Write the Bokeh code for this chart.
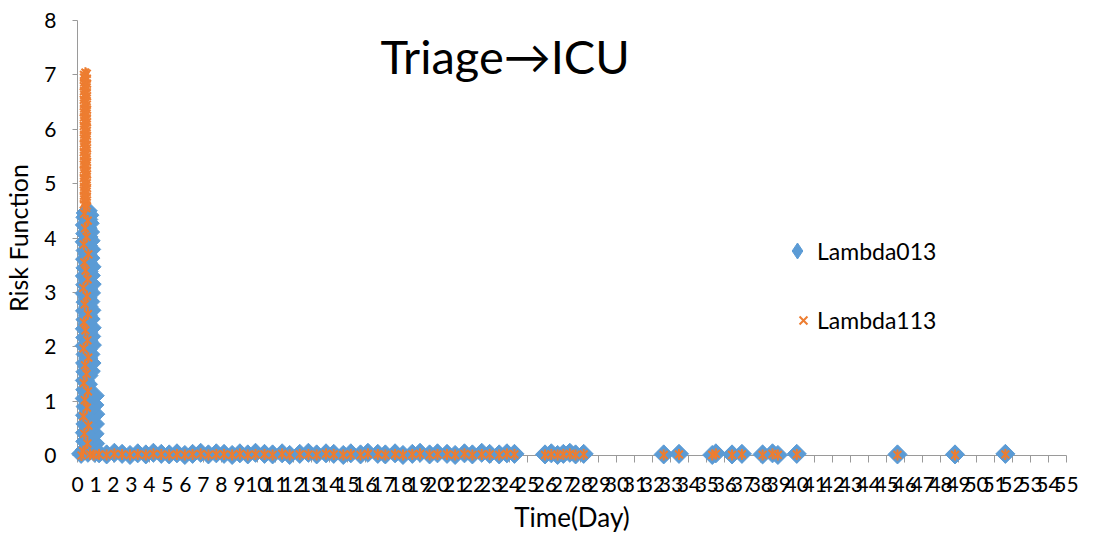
import math
from bokeh.plotting import figure
from bokeh.models import (Range1d, FixedTicker, Legend, LegendItem, Label,
                          ColumnDataSource, AllLabels, CDSView, IndexFilter)
from bokeh.embed import file_html
from bokeh.resources import INLINE

# ---------------- data ----------------
# Lambda013 : spike near day 0, then a near-zero tail
day013 = [
    # spike, left column
    0.40, 0.43, 0.41, 0.44, 0.42, 0.45, 0.40, 0.43, 0.41, 0.44, 0.42, 0.45, 0.40, 0.43, 0.41,
    0.44, 0.42, 0.45, 0.40, 0.43, 0.41, 0.44, 0.42, 0.45, 0.40, 0.43, 0.41, 0.44, 0.46,
    # spike, middle column
    0.58, 0.61, 0.56, 0.60, 0.57, 0.62, 0.59, 0.55, 0.58, 0.61, 0.56, 0.60, 0.57, 0.62, 0.59,
    0.55, 0.58, 0.61, 0.56, 0.60, 0.57, 0.62, 0.59, 0.55, 0.58, 0.61, 0.56, 0.60, 0.57,
    # spike, right column
    0.74, 0.78, 0.72, 0.80, 0.76, 0.79, 0.73, 0.77, 0.71, 0.75, 0.79, 0.74, 0.78, 0.72, 0.76,
    0.73, 0.70, 0.68, 0.66,
    # lower-right shoulder
    0.96, 0.98, 0.95, 0.97, 0.99, 0.94, 0.96,
    0.20,
    # tail
    1.20, 1.62, 2.05, 2.48, 2.92, 3.35, 3.80, 4.22, 4.66, 5.10, 5.53, 5.97, 6.40, 6.85,
    7.28, 7.72, 8.15, 8.60, 9.03, 9.47, 9.90, 10.40, 10.85, 11.38, 11.80, 12.36, 12.84,
    13.30, 13.82, 14.25, 14.78, 15.20, 15.74, 16.15, 16.70, 17.12, 17.66, 18.10, 18.62,
    19.05, 19.58, 20.02, 20.55, 21.00, 21.52, 21.96, 22.48, 22.92, 23.45, 23.88, 24.30,
    26.00, 26.35, 26.70, 27.02, 27.38, 27.70, 28.15,
    32.60, 33.45, 35.30, 35.50, 36.40, 36.95, 38.10, 38.65, 38.95, 40.00, 45.60, 48.80, 51.60,
]
lambda013 = [
    0.10, 0.26, 0.42, 0.58, 0.74, 0.90, 1.05, 1.21, 1.38, 1.54, 1.70, 1.86, 2.02, 2.17, 2.33,
    2.50, 2.66, 2.82, 2.98, 3.14, 3.30, 3.45, 3.61, 3.77, 3.93, 4.08, 4.24, 4.38, 4.46,
    0.05, 0.20, 0.36, 0.52, 0.68, 0.84, 1.00, 1.15, 1.31, 1.47, 1.63, 1.79, 1.95, 2.10, 2.26,
    2.42, 2.58, 2.74, 2.90, 3.06, 3.22, 3.38, 3.54, 3.70, 3.86, 4.02, 4.18, 4.34, 4.50,
    1.55, 1.70, 1.86, 2.03, 2.19, 2.35, 2.51, 2.67, 2.83, 2.99, 3.15, 3.31, 3.47, 3.63, 3.79,
    3.95, 4.11, 4.27, 4.42,
    0.05, 0.22, 0.40, 0.58, 0.76, 0.93, 1.10,
    0.03,
    0.04, 0.02, 0.05, 0.03, 0.01, 0.04, 0.02, 0.05, 0.03, 0.02, 0.04, 0.01, 0.03, 0.05,
    0.02, 0.04, 0.03, 0.01, 0.04, 0.02, 0.05, 0.03, 0.02, 0.04, 0.01, 0.03, 0.05,
    0.02, 0.04, 0.03, 0.01, 0.04, 0.02, 0.05, 0.03, 0.02, 0.04, 0.01, 0.03,
    0.05, 0.02, 0.04, 0.03, 0.01, 0.04, 0.02, 0.05, 0.03, 0.02, 0.04, 0.03,
    0.02, 0.04, 0.01, 0.03, 0.05, 0.02, 0.03,
    0.02, 0.03, 0.01, 0.04, 0.02, 0.03, 0.02, 0.04, 0.01, 0.03, 0.02, 0.02, 0.03,
]

# Lambda113 : taller, narrower spike, then a near-zero tail
day113 = [
    # dense top, three columns
    0.35, 0.37, 0.36, 0.35, 0.37, 0.36, 0.35, 0.37, 0.36, 0.35, 0.37, 0.36, 0.35, 0.37, 0.36, 0.35,
    0.37, 0.36, 0.35, 0.37, 0.36, 0.35, 0.37, 0.36, 0.35, 0.37, 0.36, 0.35, 0.37, 0.36, 0.36,
    0.43, 0.45, 0.44, 0.43, 0.45, 0.44, 0.43, 0.45, 0.44, 0.43, 0.45, 0.44, 0.43, 0.45, 0.44, 0.43,
    0.45, 0.44, 0.43, 0.45, 0.44, 0.43, 0.45, 0.44, 0.43, 0.45, 0.44, 0.43, 0.45, 0.44, 0.44,
    0.51, 0.53, 0.52, 0.51, 0.53, 0.52, 0.51, 0.53, 0.52, 0.51, 0.53, 0.52, 0.51, 0.53, 0.52, 0.51,
    0.53, 0.52, 0.51, 0.53, 0.52, 0.51, 0.53, 0.52, 0.51, 0.53, 0.52, 0.51, 0.53, 0.52, 0.52,
    # sparse lower part
    0.32, 0.55, 0.38, 0.60, 0.33, 0.52, 0.40, 0.58, 0.35, 0.50, 0.42, 0.60, 0.34, 0.55, 0.44,
    0.36, 0.58, 0.40, 0.52, 0.33, 0.56, 0.45, 0.38, 0.60, 0.35, 0.50, 0.42, 0.57, 0.37, 0.48,
    0.22, 0.70, 0.90,
    # tail
    1.20, 1.62, 2.05, 2.48, 2.92, 3.35, 3.80, 4.22, 4.66, 5.10, 5.53, 5.97, 6.40, 6.85,
    7.28, 7.72, 8.15, 8.60, 9.03, 9.47, 9.90, 10.40, 10.85, 11.38, 11.80, 12.36, 12.84,
    13.30, 13.82, 14.25, 14.78, 15.20, 15.74, 16.15, 16.70, 17.12, 17.66, 18.10, 18.62,
    19.05, 19.58, 20.02, 20.55, 21.00, 21.52, 21.96, 22.48, 22.92, 23.45, 23.88, 24.30,
    26.00, 26.35, 26.70, 27.02, 27.38, 27.70, 28.15,
    32.60, 33.45, 35.30, 35.50, 36.40, 36.95, 38.10, 38.65, 38.95, 40.00, 45.60, 48.80, 51.60,
]
lambda113 = [
    4.62, 4.71, 4.78, 4.87, 4.94, 5.03, 5.10, 5.19, 5.26, 5.35, 5.42, 5.51, 5.58, 5.67, 5.74, 5.83,
    5.90, 5.99, 6.06, 6.15, 6.22, 6.31, 6.38, 6.47, 6.54, 6.63, 6.70, 6.79, 6.86, 6.95, 7.00,
    4.66, 4.74, 4.83, 4.90, 4.99, 5.06, 5.15, 5.22, 5.31, 5.38, 5.47, 5.54, 5.63, 5.70, 5.79, 5.86,
    5.95, 6.02, 6.11, 6.18, 6.27, 6.34, 6.43, 6.50, 6.59, 6.66, 6.75, 6.82, 6.91, 6.98, 7.04,
    4.60, 4.69, 4.76, 4.85, 4.92, 5.01, 5.08, 5.17, 5.24, 5.33, 5.40, 5.49, 5.56, 5.65, 5.72, 5.81,
    5.88, 5.97, 6.04, 6.13, 6.20, 6.29, 6.36, 6.45, 6.52, 6.61, 6.68, 6.77, 6.84, 6.93, 7.02,
    0.08, 0.22, 0.40, 0.55, 0.72, 0.88, 1.02, 1.18, 1.33, 1.50, 1.66, 1.80, 1.97, 2.12, 2.30,
    2.45, 2.60, 2.78, 2.93, 3.08, 3.24, 3.40, 3.55, 3.70, 3.88, 4.02, 4.18, 4.32, 4.45, 4.55,
    0.00, 0.02, 0.01,
    0.02, 0.01, 0.03, 0.02, 0.01, 0.02, 0.01, 0.03, 0.02, 0.01, 0.02, 0.01, 0.02, 0.03,
    0.01, 0.02, 0.02, 0.01, 0.03, 0.01, 0.02, 0.02, 0.01, 0.03, 0.01, 0.02, 0.02,
    0.01, 0.03, 0.02, 0.01, 0.02, 0.01, 0.03, 0.02, 0.01, 0.02, 0.01, 0.02,
    0.03, 0.01, 0.02, 0.02, 0.01, 0.03, 0.01, 0.02, 0.02, 0.01, 0.03, 0.02,
    0.01, 0.02, 0.01, 0.02, 0.03, 0.01, 0.02,
    0.01, 0.02, 0.01, 0.03, 0.01, 0.02, 0.01, 0.03, 0.01, 0.02, 0.01, 0.01, 0.02,
]

x_ticks = list(range(0, 56))
y_ticks = list(range(0, 9))
series_names = ["Lambda013", "Lambda113"]
chart_title = "Triage\u2192ICU"
x_title = "Time(Day)"
y_title = "Risk Function"

BLUE = "#5B9BD5"
ORANGE = "#ED7D31"
AXIS = "#9A9A9A"
FONT = "Lato"

# ---------------- figure ----------------
p = figure(width=1080, height=540, x_range=Range1d(0, 55), y_range=Range1d(0, 8),
           output_backend="svg", toolbar_location=None, tools="",
           min_border_left=69, min_border_right=14, min_border_top=20, min_border_bottom=85)
p.outline_line_color = None
p.grid.visible = False
p.background_fill_color = "white"
p.border_fill_color = "white"

p.xaxis.ticker = FixedTicker(ticks=x_ticks)
p.yaxis.ticker = FixedTicker(ticks=y_ticks)
for ax in (p.xaxis, p.yaxis):
    ax.axis_line_color = AXIS
    ax.major_tick_line_color = AXIS
    ax.minor_tick_line_color = None
    ax.major_tick_in = 0
    ax.major_label_text_font = FONT
    ax.major_label_text_font_size = "21px"
    ax.major_label_text_color = "black"
    ax.axis_label_text_font = FONT
    ax.axis_label_text_font_style = "normal"
    ax.axis_label_text_color = "black"
    ax.major_label_policy = AllLabels()
p.xaxis.axis_label_text_font_size = "26px"
p.yaxis.axis_label_text_font_size = "25px"
p.xaxis.major_tick_out = 7
p.xaxis.major_label_standoff = 14
p.xaxis.axis_label = x_title
p.xaxis.axis_label_standoff = 6
p.yaxis.major_tick_out = 5
p.yaxis.major_label_standoff = 16
p.yaxis.axis_label = y_title
p.yaxis.axis_label_standoff = 8

src013 = ColumnDataSource(dict(day=day013, value=lambda013))
src113 = ColumnDataSource(dict(day=day113, value=lambda113))

# legend swatch for the diamond marker (legend draws markers unrotated);
# it re-draws one point hidden inside the blue spike
swatch013 = p.scatter("day", "value", source=src013, view=CDSView(filter=IndexFilter(indices=[10])),
                      marker="diamond", size=8, fill_color=BLUE, line_color=BLUE)

r013 = p.scatter("day", "value", source=src013, marker="square", size=13.5, angle=math.pi / 4,
                 fill_color=BLUE, line_color=BLUE)
r113x = p.scatter("day", "value", source=src113, marker="x", size=11,
                  line_color=ORANGE, line_width=2)
r113d = p.scatter("day", "value", source=src113, marker="dash", size=11, angle=math.pi / 2,
                  line_color=ORANGE, line_width=2)
for r in (r013, r113x, r113d):
    r.level = "overlay"

leg1 = Legend(items=[LegendItem(label=series_names[0], renderers=[swatch013])],
              location=(700, 182), glyph_width=40, glyph_height=45, label_standoff=0,
              padding=0, margin=0, spacing=0, border_line_color=None,
              background_fill_alpha=0, label_text_font=FONT, label_text_font_size="23px",
              label_text_color="black")
leg2 = Legend(items=[LegendItem(label=series_names[1], renderers=[r113x])],
              location=(712, 121), glyph_width=28, glyph_height=28, label_standoff=0,
              padding=0, margin=0, spacing=0, border_line_color=None,
              background_fill_alpha=0, label_text_font=FONT, label_text_font_size="23px",
              label_text_color="black")
p.add_layout(leg1)
p.add_layout(leg2)

title = Label(x=303, y=400, x_units="screen", y_units="screen", text=chart_title,
              text_font=FONT, text_font_size="47px", text_color="black",
              text_baseline="alphabetic")
p.add_layout(title)

open("out.html", "w").write(file_html(p, INLINE))
